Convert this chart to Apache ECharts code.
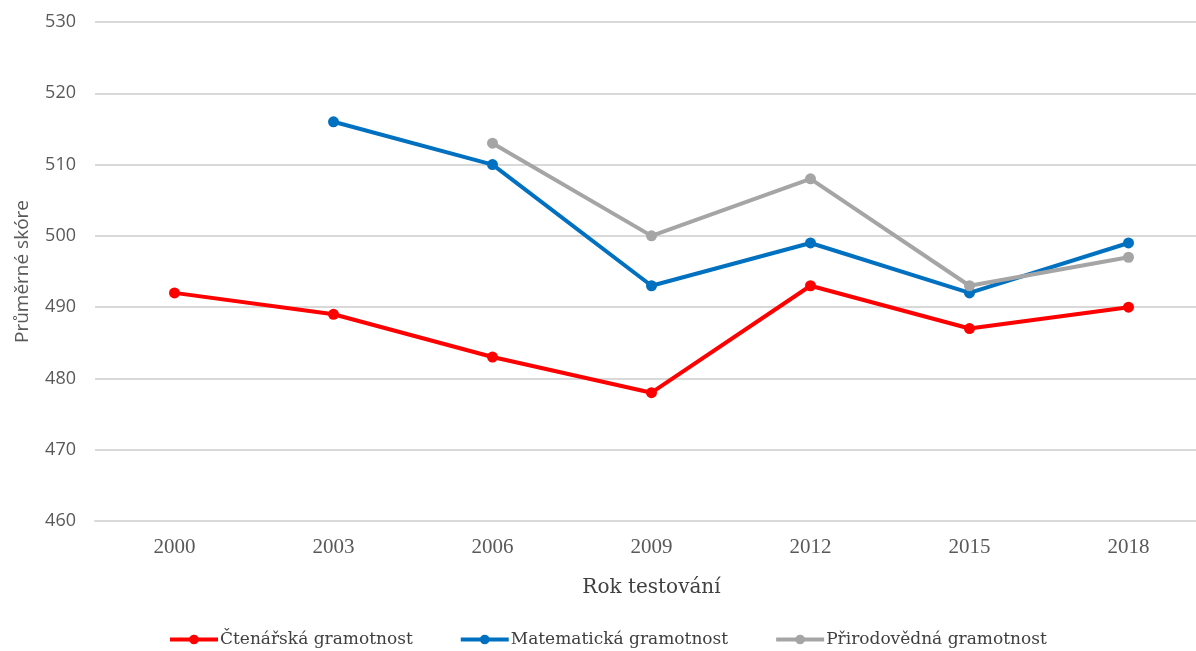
<!DOCTYPE html>
<html>
<head>
<meta charset="utf-8">
<script src="https://cdn.jsdelivr.net/npm/echarts@6/dist/echarts.min.js"></script>
<style>
  html, body { margin: 0; padding: 0; background: #fff; overflow: hidden; }
  /* plot area runs slightly past the right edge of the window */
  #chart { width: 1208px; height: 651px; }
</style>
</head>
<body>
<div id="chart"></div>
<script>
// PISA mean scores by testing year
const years = ['2000', '2003', '2006', '2009', '2012', '2015', '2018'];
const reading = [492, 489, 483, 478, 493, 487, 490];
const math = [null, 516, 510, 493, 499, 492, 499];
const science = [null, null, 513, 500, 508, 493, 497];
const seriesNames = ['Čtenářská gramotnost', 'Matematická gramotnost', 'Přirodovědná gramotnost'];
const seriesColors = ['#FF0000', '#0070C0', '#A5A5A5'];

const serif = '"DejaVu Serif", "Liberation Serif", serif';
const timesLike = '"Liberation Serif", serif';
const sans = '"Open Sans", "DejaVu Sans", sans-serif';

const chart = echarts.init(document.getElementById('chart'), null, { renderer: 'canvas' });

function lineSeries(name, data, color) {
  return {
    name: name,
    type: 'line',
    data: data,
    symbol: 'circle',
    symbolSize: 11,
    connectNulls: false,
    itemStyle: { color: color },
    lineStyle: { color: color, width: 4 },
    emphasis: { disabled: true },
    animation: false
  };
}

chart.setOption({
  backgroundColor: '#ffffff',
  animation: false,
  grid: { left: 95, top: 22, right: 0, height: 499, containLabel: false },
  xAxis: {
    type: 'category',
    data: years,
    boundaryGap: true,
    name: 'Rok testování',
    nameLocation: 'middle',
    nameGap: 57,
    nameTextStyle: { fontFamily: serif, fontSize: 20, color: '#404040' },
    axisLine: { show: true, lineStyle: { color: '#D9D9D9', width: 2 } },
    axisTick: { show: false },
    axisLabel: { fontFamily: timesLike, fontSize: 21, color: '#595959', margin: 16 },
    splitLine: { show: false }
  },
  yAxis: {
    type: 'value',
    min: 460,
    max: 530,
    interval: 10,
    name: 'Průměrné skóre',
    nameLocation: 'middle',
    nameGap: 63,
    nameTextStyle: { fontFamily: sans, fontSize: 19, color: '#595959' },
    axisLine: { show: false },
    axisTick: { show: false },
    axisLabel: { fontFamily: sans, fontSize: 18, color: '#595959', margin: 19 },
    splitLine: { show: true, lineStyle: { color: '#D9D9D9', width: 2 } }
  },
  legend: {
    data: seriesNames,
    left: 168,
    top: 631,
    padding: 0,
    itemWidth: 48,
    itemHeight: 12,
    itemGap: 46,
    lineStyle: { width: 4 },
    textStyle: { fontFamily: serif, fontSize: 17, color: '#404040', padding: [0, 0, 0, -3] },
    selectedMode: false
  },
  series: [
    lineSeries(seriesNames[0], reading, seriesColors[0]),
    lineSeries(seriesNames[1], math, seriesColors[1]),
    lineSeries(seriesNames[2], science, seriesColors[2])
  ]
});
</script>
</body>
</html>
